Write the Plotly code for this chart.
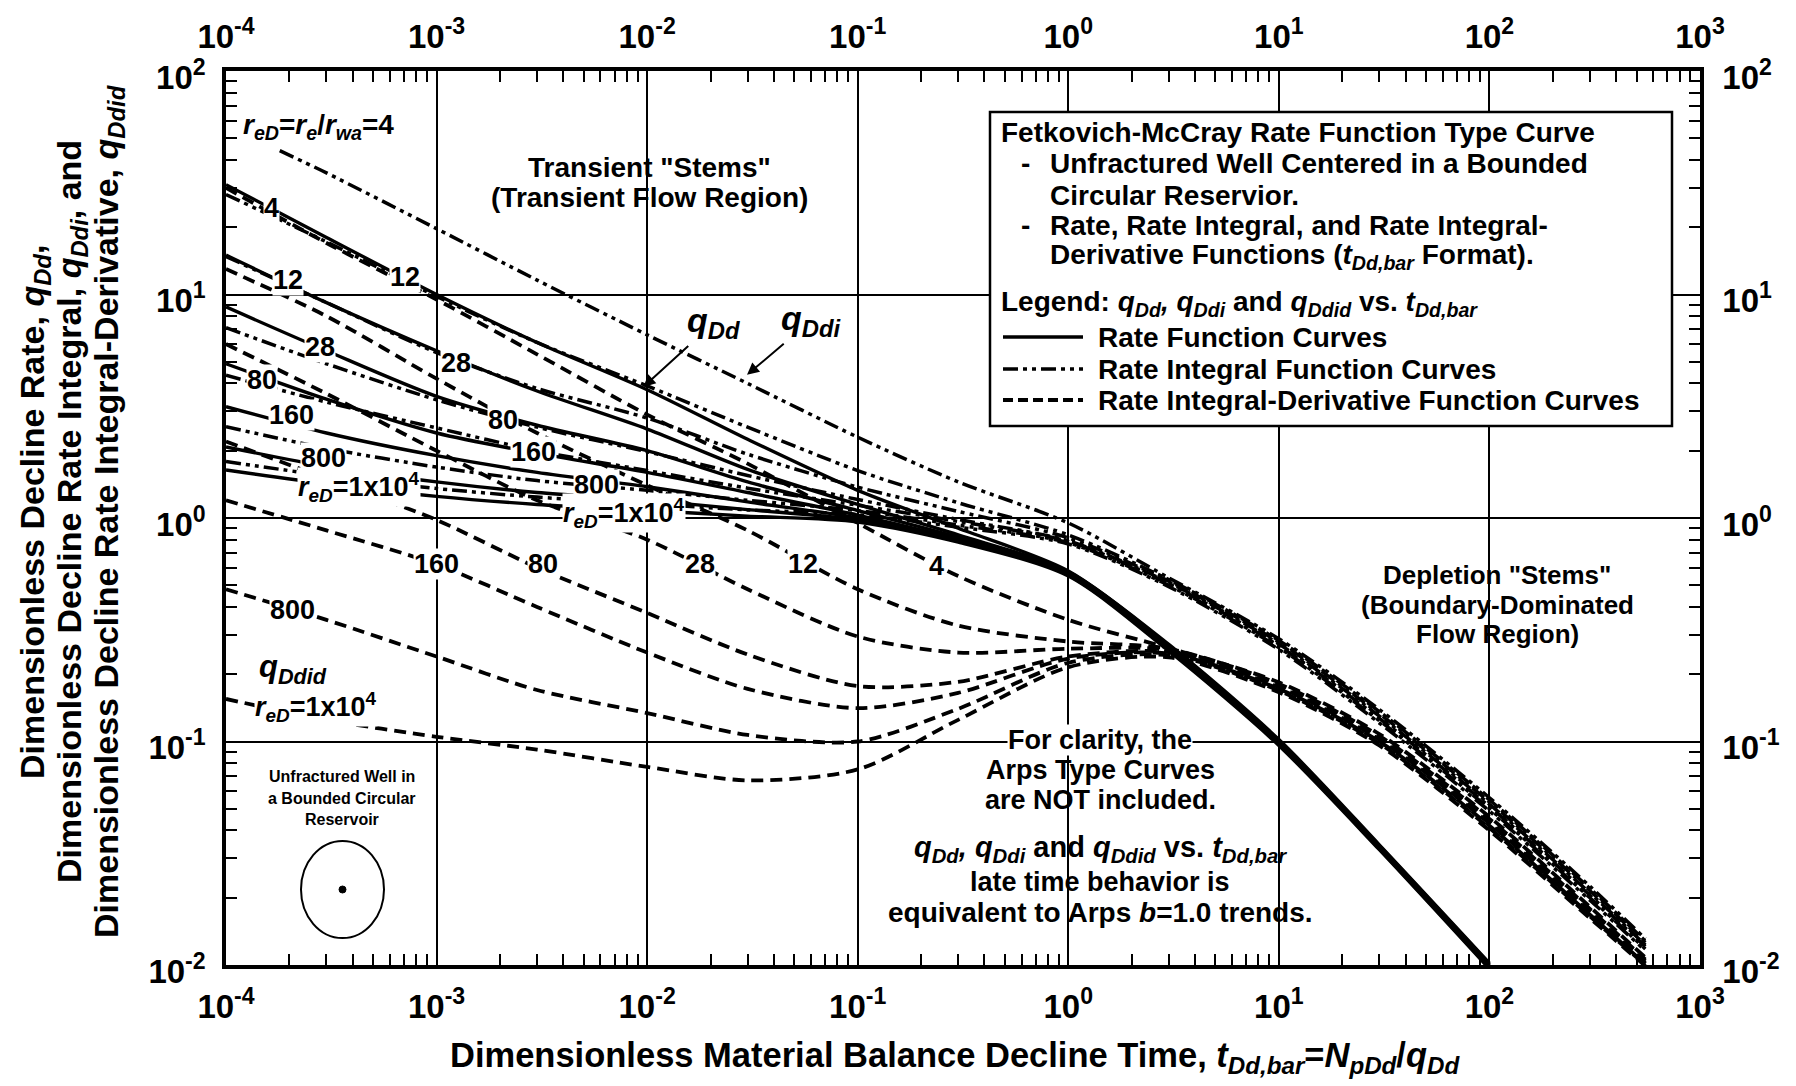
import math
import plotly.graph_objects as go

# ---------------- data ----------------
t_rate = [1e-4, 3e-4, 1e-3, 3e-3, 1e-2, 3e-2, 0.1, 0.3, 1, 3, 10, 30, 100]
rate_4 = [31, 18, 10, 6.1, 3.75, 2.25, 1.33, 0.9, 0.58, 0.272, 0.102, 0.0345, 0.0102]
rate_12 = [15, 9.2, 5.6, 3.7, 2.5, 1.65, 1.15, 0.84, 0.575, 0.269, 0.101, 0.0342, 0.0101]
rate_28 = [8.8, 5.6, 3.5, 2.6, 2.0, 1.45, 1.08, 0.82, 0.57, 0.266, 0.1, 0.034, 0.01]
rate_80 = [4.9, 3.4, 2.4, 1.95, 1.6, 1.3, 1.03, 0.8, 0.565, 0.263, 0.099, 0.0337, 0.0099]
rate_160 = [3.15, 2.4, 1.9, 1.6, 1.38, 1.18, 1.0, 0.8, 0.56, 0.26, 0.098, 0.0334, 0.0098]
rate_800 = [2.08, 1.7, 1.45, 1.3, 1.2, 1.09, 0.98, 0.79, 0.555, 0.257, 0.097, 0.0331, 0.0097]
rate_1e4 = [1.64, 1.42, 1.25, 1.15, 1.08, 1.02, 0.96, 0.78, 0.55, 0.254, 0.096, 0.0328, 0.0096]

t_int = [1e-4, 3e-4, 1e-3, 3e-3, 1e-2, 3e-2, 0.1, 0.3, 1, 3, 10, 30, 100, 300, 550]
t_int_4 = [1.8e-4, 3e-4, 1e-3, 3e-3, 1e-2, 3e-2, 0.1, 0.3, 1, 3, 10, 30, 100, 300, 550]
int_4 = [44, 35, 19.7, 11.6, 6.6, 4.0, 2.3, 1.45, 0.95, 0.54, 0.288, 0.139, 0.056, 0.0225, 0.0131]
int_12 = [28, 17.2, 9.8, 6.1, 3.9, 2.55, 1.63, 1.17, 0.84, 0.53, 0.283, 0.136, 0.0548, 0.022, 0.0128]
int_28 = [14.8, 9.2, 5.5, 3.8, 2.8, 1.93, 1.375, 1.07, 0.815, 0.522, 0.278, 0.133, 0.0536, 0.0215, 0.0126]
int_80 = [7.1, 4.9, 3.38, 2.55, 1.98, 1.55, 1.21, 0.985, 0.79, 0.515, 0.273, 0.13, 0.0524, 0.021, 0.0123]
int_160 = [4.35, 3.3, 2.53, 2.0, 1.63, 1.36, 1.14, 0.965, 0.785, 0.508, 0.268, 0.127, 0.0512, 0.0205, 0.0121]
int_800 = [2.56, 2.05, 1.69, 1.47, 1.33, 1.2, 1.08, 0.93, 0.775, 0.5, 0.263, 0.124, 0.05, 0.02, 0.0118]
int_1e4 = [1.79, 1.545, 1.355, 1.24, 1.157, 1.087, 1.035, 0.91, 0.765, 0.493, 0.258, 0.121, 0.0488, 0.0195, 0.0116]

t_der = [1e-4, 3e-4, 1e-3, 3e-3, 1e-2, 3e-2, 0.1, 0.3, 1, 3, 10, 30, 100, 300, 550]
der_4 = [30, 17, 9.5, 5.4, 2.9, 1.75, 0.95, 0.55, 0.35, 0.262, 0.184, 0.108, 0.046, 0.0182, 0.0108]
der_12 = [13, 8, 4.2, 2.4, 1.4, 0.88, 0.48, 0.33, 0.28, 0.26, 0.181, 0.106, 0.045, 0.0178, 0.0106]
der_28 = [6, 3.6, 2.0, 1.2, 0.8, 0.48, 0.295, 0.25, 0.26, 0.256, 0.178, 0.104, 0.044, 0.0175, 0.0104]
der_80 = [2.2, 1.5, 0.98, 0.6, 0.376, 0.245, 0.177, 0.185, 0.24, 0.251, 0.175, 0.102, 0.043, 0.0171, 0.0102]
der_160 = [1.2, 0.88, 0.62, 0.4, 0.25, 0.172, 0.141, 0.165, 0.235, 0.247, 0.172, 0.1, 0.042, 0.0168, 0.0101]
der_800 = [0.48, 0.35, 0.24, 0.17, 0.134, 0.107, 0.1, 0.14, 0.225, 0.243, 0.169, 0.098, 0.041, 0.0165, 0.01]
der_1e4 = [0.155, 0.125, 0.105, 0.092, 0.077, 0.067, 0.075, 0.125, 0.215, 0.238, 0.166, 0.096, 0.04, 0.0162, 0.0099]

x_tick_vals = [1e-4, 1e-3, 1e-2, 1e-1, 1, 10, 100, 1000]
x_tick_text = ["<b>10<sup>-4</sup></b>", "<b>10<sup>-3</sup></b>", "<b>10<sup>-2</sup></b>",
               "<b>10<sup>-1</sup></b>", "<b>10<sup>0</sup></b>", "<b>10<sup>1</sup></b>",
               "<b>10<sup>2</sup></b>", "<b>10<sup>3</sup></b>"]
y_tick_vals = [1e-2, 1e-1, 1, 10, 100]
y_tick_text = ["<b>10<sup>-2</sup></b>", "<b>10<sup>-1</sup></b>", "<b>10<sup>0</sup></b>",
               "<b>10<sup>1</sup></b>", "<b>10<sup>2</sup></b>"]

# curve labels: (text, x, y)
solid_labels = [("4", 1.65e-4, 24.3), ("12", 1.97e-4, 11.6), ("12", 7.1e-4, 12.0),
                ("28", 2.79e-4, 5.84), ("28", 1.24e-3, 4.92), ("80", 1.48e-4, 4.14),
                ("80", 2.07e-3, 2.74), ("160", 2.05e-4, 2.89), ("160", 2.9e-3, 1.98),
                ("800", 2.9e-4, 1.85), ("800", 5.75e-3, 1.41)]
red_labels = [(4.3e-4, 1.38), (7.8e-3, 1.05)]
dashed_labels = [("160", 1.0e-3, 0.62), ("80", 3.2e-3, 0.62), ("28", 0.0178, 0.62),
                 ("12", 0.055, 0.62), ("4", 0.237, 0.61), ("800", 2.07e-4, 0.389)]

# ---------------- layout helpers ----------------
FONT = "Liberation Sans, Arial, sans-serif"
L, R, T, B = 226, 1700, 71, 965
W, H = 1796, 1086


def px(fx):
    return (fx - L) / (R - L)


def py(fy):
    return (B - fy) / (B - T)


DASHDOT = "15px,5px,4px,5px,4px,5px"
DASHED = "12px,7px"

fig = go.Figure()

rate_sets = [rate_4, rate_12, rate_28, rate_80, rate_160, rate_800, rate_1e4]
int_sets = [int_4, int_12, int_28, int_80, int_160, int_800, int_1e4]
der_sets = [der_4, der_12, der_28, der_80, der_160, der_800, der_1e4]

for d in der_sets:
    fig.add_trace(go.Scatter(x=t_der, y=d, mode="lines",
                             line=dict(color="black", width=3.8, dash=DASHED, shape="spline", smoothing=0.8),
                             showlegend=False, hoverinfo="skip"))
for i, d in enumerate(int_sets):
    tx = t_int_4 if i == 0 else t_int
    fig.add_trace(go.Scatter(x=tx, y=d, mode="lines",
                             line=dict(color="black", width=3.5, dash=DASHDOT, shape="spline", smoothing=0.8),
                             showlegend=False, hoverinfo="skip"))
for d in rate_sets:
    fig.add_trace(go.Scatter(x=t_rate, y=d, mode="lines",
                             line=dict(color="black", width=3.4, shape="spline", smoothing=0.8),
                             showlegend=False, hoverinfo="skip"))

# dummy trace for top/right axes
fig.add_trace(go.Scatter(x=[1e-4, 1e3], y=[1e-2, 1e2], xaxis="x2", yaxis="y2", mode="markers",
                         marker=dict(opacity=0), showlegend=False, hoverinfo="skip"))

minor_x = [m * 10 ** e for e in range(-4, 3) for m in range(2, 10)]
minor_y = [m * 10 ** e for e in range(-2, 2) for m in range(2, 10)]

axis_common = dict(type="log", showline=True, linewidth=3.5, linecolor="black", mirror=False,
                   ticks="", zeroline=False, tickfont=dict(family=FONT, size=33, color="black"))


def minor(vals):
    return dict(tickmode="array", tickvals=vals, ticks="inside", ticklen=11,
                tickwidth=2.2, tickcolor="black", showgrid=False)


fig.update_layout(
    width=W, height=H,
    margin=dict(l=L, r=W - R, t=T, b=H - B),
    paper_bgcolor="white", plot_bgcolor="white",
    xaxis=dict(range=[-4, 3], tickvals=x_tick_vals, ticktext=x_tick_text,
               showgrid=True, gridcolor="black", gridwidth=1.8, minor=minor(minor_x),
               ticklabelstandoff=10, **axis_common),
    yaxis=dict(range=[-2, 2], tickvals=y_tick_vals, ticktext=y_tick_text,
               showgrid=True, gridcolor="black", gridwidth=1.8, minor=minor(minor_y),
               ticklabelstandoff=10, ticklabelshift=6, **axis_common),
    xaxis2=dict(range=[-4, 3], tickvals=x_tick_vals, ticktext=x_tick_text, overlaying="x",
                side="top", anchor="y", showgrid=False, minor=minor(minor_x),
                ticklabelstandoff=6, **axis_common),
    yaxis2=dict(range=[-2, 2], tickvals=y_tick_vals, ticktext=y_tick_text, overlaying="y",
                side="right", anchor="x", showgrid=False, minor=minor(minor_y),
                ticklabelstandoff=12, ticklabelshift=6, **axis_common),
)

ann = []


def text(fx, fy, s, size=27, xanchor="center", bg=None, angle=0, yanchor="middle"):
    d = dict(x=px(fx), y=py(fy), xref="paper", yref="paper", text=s, showarrow=False,
             font=dict(family=FONT, size=size, color="black"), xanchor=xanchor, yanchor=yanchor,
             textangle=angle, borderpad=0)
    if bg:
        d["bgcolor"] = bg
    ann.append(d)


def dlabel(x, y, s, size=27):
    ann.append(dict(x=math.log10(x), y=math.log10(y), xref="x", yref="y", text=s, showarrow=False,
                    font=dict(family=FONT, size=size, color="black"), bgcolor="white",
                    borderpad=0, xanchor="center", yanchor="middle"))


for s, x, y in solid_labels:
    dlabel(x, y, "<b>" + s + "</b>")
for x, y in red_labels:
    dlabel(x, y, "<b><i>r<sub>eD</sub></i>=1x10<sup>4</sup></b>")
for s, x, y in dashed_labels:
    dlabel(x, y, "<b>" + s + "</b>")
dlabel(2.07e-4, 0.211, "<b><i>q<sub>Ddid</sub></i></b>", size=31)
dlabel(2.67e-4, 0.1425, "<b><i>r<sub>eD</sub></i>=1x10<sup>4</sup></b>")

# top-left reD label
text(242, 127, "<b><i>r<sub>eD</sub></i>=<i>r<sub>e</sub></i>/<i>r<sub>wa</sub></i>=4</b>", size=28,
     xanchor="left", bg="white")
text(649, 168, '<b>Transient "Stems"</b>', size=28)
text(649, 197, "<b>(Transient Flow Region)</b>", size=28)

# qDd / qDdi arrows
ann.append(dict(x=math.log10(0.0096), y=math.log10(3.86), xref="x", yref="y",
                text="<b><i>q<sub>Dd</sub></i></b>", showarrow=True, arrowhead=2, arrowsize=1.2,
                arrowwidth=2, arrowcolor="black", ax=70, ay=-64,
                font=dict(family=FONT, size=34, color="black")))
ann.append(dict(x=math.log10(0.0298), y=math.log10(4.37), xref="x", yref="y",
                text="<b><i>q<sub>Ddi</sub></i></b>", showarrow=True, arrowhead=2, arrowsize=1.2,
                arrowwidth=2, arrowcolor="black", ax=64, ay=-54,
                font=dict(family=FONT, size=34, color="black")))

# legend box texts
LS = 28
text(1000, 132, "<b>Fetkovich-McCray Rate Function Type Curve</b>", size=LS, xanchor="left")
text(1020, 163, "<b>-</b>", size=LS, xanchor="left")
text(1049, 163, "<b>Unfractured Well Centered in a Bounded</b>", size=LS, xanchor="left")
text(1049, 195, "<b>Circular Reservior.</b>", size=LS, xanchor="left")
text(1020, 225, "<b>-</b>", size=LS, xanchor="left")
text(1049, 225, "<b>Rate, Rate Integral, and Rate Integral-</b>", size=LS, xanchor="left")
text(1049, 256, "<b>Derivative Functions (<i>t<sub>Dd,bar</sub></i> Format).</b>", size=LS, xanchor="left")
text(1000, 303, "<b>Legend: <i>q<sub>Dd</sub>, q<sub>Ddi</sub></i> and <i>q<sub>Ddid</sub></i> vs. "
                "<i>t<sub>Dd,bar</sub></i></b>", size=LS, xanchor="left")
text(1097, 337, "<b>Rate Function Curves</b>", size=LS, xanchor="left")
text(1097, 369, "<b>Rate Integral Function Curves</b>", size=LS, xanchor="left")
text(1097, 400, "<b>Rate Integral-Derivative Function Curves</b>", size=LS, xanchor="left")

# depletion stems
text(1497, 575, '<b>Depletion "Stems"</b>', size=26)
text(1497, 605, "<b>(Boundary-Dominated</b>", size=26)
text(1497, 634, "<b>Flow Region)</b>", size=26)

# clarity note
text(1100, 740, "<b>For clarity, the</b>", size=27, bg="white")
text(1100, 770, "<b>Arps Type Curves</b>", size=27)
text(1100, 800, "<b>are NOT included.</b>", size=27)
text(1100, 849, "<b><i>q<sub>Dd</sub>, q<sub>Ddi</sub></i> and <i>q<sub>Ddid</sub></i> vs. "
                "<i>t<sub>Dd,bar</sub></i></b>", size=29)
text(1100, 882, "<b>late time behavior is</b>", size=27)
text(1100, 912, "<b>equivalent to Arps <i>b</i>=1.0 trends.</b>", size=28)

# well sketch text
text(342, 777, "<b>Unfractured Well in</b>", size=16)
text(342, 798, "<b>a Bounded Circular</b>", size=16)
text(342, 819, "<b>Reservoir</b>", size=16)

# axis titles
text(955, 1057, "<b>Dimensionless Material Balance Decline Time, <i>t<sub>Dd,bar</sub></i>="
                "<i>N<sub>pDd</sub></i>/<i>q<sub>Dd</sub></i></b>", size=34.5)
text(34, 512, "<b>Dimensionless Decline Rate, <i>q<sub>Dd</sub></i>,</b>", size=34, angle=-90)
text(71, 512, "<b>Dimensionless Decline Rate Integral, <i>q<sub>Ddi</sub></i>, and</b>", size=34, angle=-90)
text(108, 512, "<b>Dimensionless Decline Rate Integral-Derivative, <i>q<sub>Ddid</sub></i></b>",
     size=34, angle=-90)

fig.update_layout(annotations=ann)

shapes = [
    dict(type="rect", xref="paper", yref="paper", x0=px(990), x1=px(1672), y0=py(426), y1=py(112),
         line=dict(color="black", width=2.5), fillcolor="white", layer="above"),
    dict(type="line", xref="paper", yref="paper", x0=px(1003), x1=px(1083), y0=py(337), y1=py(337),
         line=dict(color="black", width=3.4), layer="above"),
    dict(type="line", xref="paper", yref="paper", x0=px(1003), x1=px(1083), y0=py(369), y1=py(369),
         line=dict(color="black", width=3.5, dash=DASHDOT), layer="above"),
    dict(type="line", xref="paper", yref="paper", x0=px(1003), x1=px(1083), y0=py(400), y1=py(400),
         line=dict(color="black", width=3.8, dash="10px,5px"), layer="above"),
    dict(type="circle", xref="paper", yref="paper", x0=px(301), x1=px(384), y0=py(938), y1=py(841),
         line=dict(color="black", width=2), fillcolor="rgba(0,0,0,0)", layer="above"),
    dict(type="circle", xref="paper", yref="paper", x0=px(339), x1=px(346), y0=py(893), y1=py(886),
         line=dict(color="black", width=1), fillcolor="black", layer="above"),
]
fig.update_layout(shapes=shapes)

fig.write_html("out.html")
